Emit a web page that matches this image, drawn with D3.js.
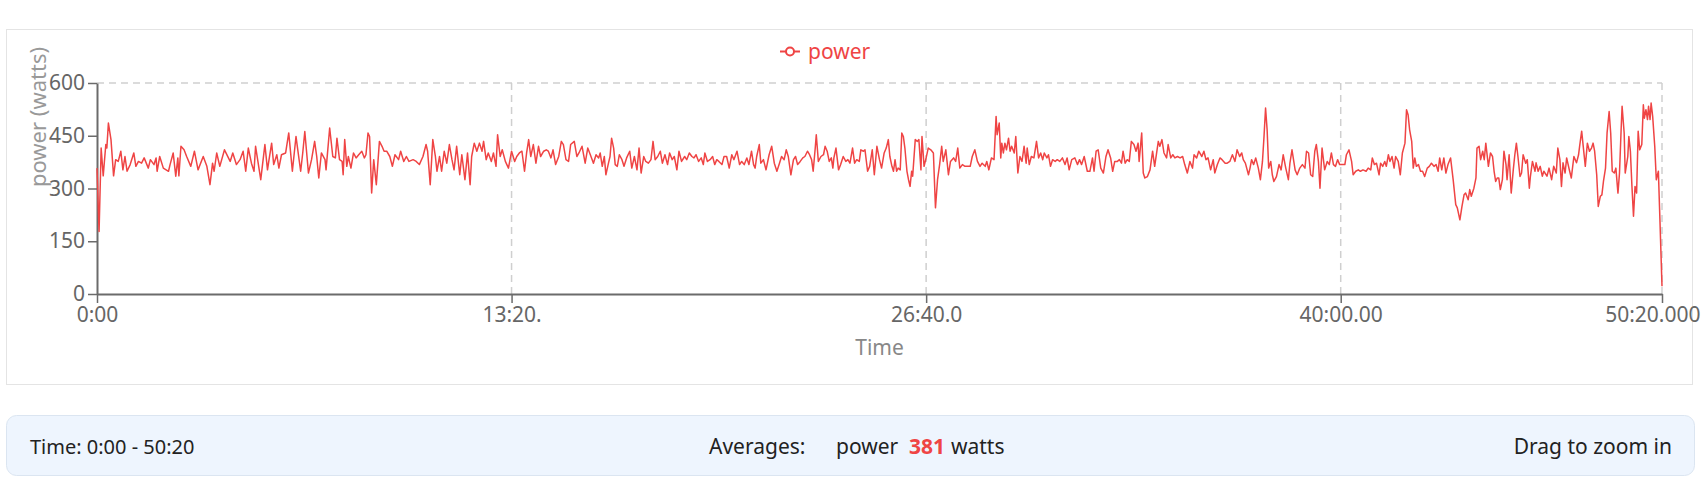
<!DOCTYPE html>
<html>
<head>
<meta charset="utf-8">
<script src="https://cdn.jsdelivr.net/npm/d3@7"></script>
<style>
  html, body { margin: 0; padding: 0; background: #fff; }
  svg { display: block; font-family: "Segoe UI", "Noto Sans", sans-serif; }
</style>
</head>
<body>
<div id="chart"></div>
<script>
// data: elapsed seconds and power in watts
const seconds = [
  0,4,8,12,17,19,22,27,32,36,41,46,50,54,58,64,71,75,80,86,91,99,103,110,114,116,121,128,138,141,147,152,156,158,162,168,173,181,188,195,205,212,218,223,226,231,237,246,257,262,269,276,282,287,292,298,303,306,316,324,329,332,337,341,347,351,356,364,370,377,384,387,393,397,401,408,414,420,424,428,433,440,442,449,
  455,460,463,468,473,475,478,482,485,490,495,500,505,511,516,519,523,526,530,534,539,545,550,554,559,565,570,575,582,586,592,597,602,610,616,622,629,635,638,643,648,653,656,661,665,670,675,680,685,689,694,700,704,710,715,720,723,728,733,738,743,746,751,755,761,765,770,773,778,782,788,794,800,806,810,815,820,825,829,833,837,842,847,852,856,862,867,871,876,880,885,891,896,900,905,910,914,921,
  926,930,936,942,947,952,958,963,968,971,975,979,982,987,990,993,997,1000,1004,1008,1013,1017,1022,1028,1032,1037,1042,1046,1050,1055,1059,1064,1069,1073,1077,1082,1087,1091,1096,1101,1105,1110,1114,1119,1123,1128,1134,1138,1143,1148,1152,1156,1161,1166,1170,1173,1178,1183,1188,1192,1196,1200,1206,1210,1215,1220,1225,1229,1235,1240,1244,1249,1254,1258,1263,1267,1270,1273,1278,1281,1286,1291,1297,1302,1307,1312,1317,1321,1326,1330,1334,1339,1344,1348,1352,1357,1362,1366,1371,1375,1379,1382,1386,
  1388,1392,1397,1402,1405,1409,1413,1417,1420,1422,1426,1431,1435,1440,1445,1449,1453,1458,1462,1466,1471,1474,1479,1482,1487,1491,1496,1500,1505,1510,1514,1519,1523,1527,1530,1534,1537,1540,1543,1546,1550,1553,1556,1559,1563,1566,1569,1572,1574,1579,1583,1586,1590,1592,1596,1600,1604,1609,1614,1618,1622,1626,1630,1633,1638,1643,1647,1653,1657,1661,1665,1670,1675,1680,1685,1689,1694,1699,1704,1708,1714,1717,1721,1726,1731,1735,1737,1741,1744,1746,1749,1752,1755,1759,1762,1765,1770,1773,1777,1781,1785,1789,1793,1795,1799,1803,1808,1813,1817,1821,1825,1828,1833,1836,1840,1844,1849,
  1853,1858,1863,1868,1872,1876,1881,1887,1892,1896,1900,1905,1911,1916,1921,1924,1928,1932,1937,1942,1947,1951,1956,1960,1964,1969,1973,1977,1980,1984,1988,1992,1996,2001,2005,2009,2011,2016,2019,2022,2027,2032,2037,2041,2048,2051,2055,2059,2064,2067,2072,2076,2080,2085,2090,2095,2099,2104,2109,2114,2117,2122,2126,2132,2136,2140,2144,2149,2154,2157,2162,2167,2171,2177,2181,2186,2191,2196,2200,2205,2209,2212,2216,2222,2225,2228,2232,2236,2241,2245,2249,2252,2255,2258,2261,2265,2268,2271,2276,2281,2285,2289,2294,2299,2302,2306,2312,
  2316,2321,2326,2331,2334,2338,2342,2346,2350,2353,2357,2360,2364,2369,2374,2378,2382,2386,2390,2394,2398,2403,2408,2411,2416,2421,2424,2429,2434,2438,2443,2449,2453,2458,2461,2465,2469,2474,2477,2481,2485,2488,2492,2495,2499,2503,2506,2511,2515,2519,2524,2527,2530,2533,2537,2540,2543,2546,2550,2554,2558,2562,2567,2571,2575,2580,2584,2588,2591,2595,2599,2603,2607,2612,2617,2622,2625,2630,2634,2638,2641,2646,2649,2652,2657,2661,2663,2667,2670,2674,2677,2680,2685,2689,2693,2696,2699,2702,2705,2708,2712,2715,2719,2721,2725,2729,2733,2736,2739,2742,2746,2749,2752,2757,2760,2764,2766,2770,2775,
  2777,2781,2785,2789,2792,2798,2802,2807,2811,2816,2819,2823,2826,2829,2833,2836,2841,2845,2850,2855,2859,2861,2865,2868,2872,2876,2880,2884,2887,2890,2894,2897,2901,2904,2907,2911,2914,2918,2921,2924,2928,2931,2935,2938,2941,2943,2947,2949,2954,2956,2959,2962,2965,2968,2971,2974,2977,2981,2984,2986,2989,2992,2994,2997,2999,3002,3006,3009,3013,3016,3020
];
const watts = [
  358,178,415,336,425,415,486,439,336,382,377,406,353,391,349,368,401,363,377,372,387,358,382,368,387,349,391,358,349,368,401,335,387,336,420,410,391,363,406,353,391,363,311,372,349,401,363,410,377,401,368,382,406,349,415,372,349,420,325,425,353,382,429,368,396,358,396,401,458,349,448,415,349,401,462,344,382,434,391,330,401,382,353,472,
  391,387,443,382,377,339,439,363,391,358,401,387,396,406,387,396,458,448,287,382,311,434,420,406,406,391,363,396,382,406,377,391,377,382,377,368,391,425,406,311,439,391,349,391,349,406,372,425,382,353,420,339,396,325,401,311,391,429,406,429,406,434,382,401,377,401,363,453,391,410,377,358,406,377,391,401,406,349,401,439,391,425,372,420,391,406,410,406,387,410,368,391,434,425,382,377,425,434,
  391,401,420,372,415,396,372,396,387,401,363,391,339,372,391,443,415,368,363,396,382,363,387,406,358,391,353,415,344,391,377,372,382,434,382,391,406,372,396,368,401,382,391,353,406,377,391,382,401,391,387,396,377,387,368,401,377,382,391,368,382,377,368,391,391,358,396,382,406,368,377,368,387,368,406,368,358,391,425,372,382,353,396,420,372,349,372,391,382,410,391,339,382,391,368,377,387,391,406,396,382,349,415,
  453,377,391,396,420,406,377,387,358,387,415,353,368,391,377,382,372,415,372,382,377,410,406,410,349,363,410,339,420,382,358,401,415,439,391,363,349,382,349,358,353,458,448,415,349,325,306,349,335,439,434,439,353,448,363,387,415,410,401,245,325,368,420,377,410,339,377,387,377,415,358,368,363,363,363,391,410,377,363,372,363,377,353,387,382,505,453,486,387,429,401,429,410,443,406,420,401,448,344,391,377,420,372,415,368,391,387,434,387,401,382,401,387,396,363,382,377,
  382,377,387,368,387,353,382,387,368,382,368,391,349,349,387,349,406,410,358,344,391,410,387,349,377,377,382,372,406,372,382,377,434,425,406,429,377,458,344,330,334,353,406,363,434,420,439,401,387,425,387,396,387,391,387,391,368,344,377,358,396,387,406,391,406,382,387,353,382,344,368,387,382,372,372,377,396,377,410,391,401,382,372,339,358,382,368,387,358,325,377,448,529,467,358,377,339,320,334,368,353,396,358,325,372,410,353,
  339,358,368,358,406,401,339,334,406,425,377,301,415,353,377,368,401,368,363,382,368,368,368,396,410,377,339,349,353,349,353,349,358,353,387,368,372,339,372,363,377,363,396,377,391,358,391,377,339,401,429,524,510,467,434,358,387,363,368,349,349,334,358,363,372,363,368,349,387,353,387,344,368,387,325,254,245,211,249,282,287,268,297,278,301,330,415,420,382,406,382,429,363,401,391,349,320,330,330,297,325,406,368,325,396,287,353,396,429,391,334,344,396,372,382,301,334,377,349,
  373,349,363,335,349,335,358,325,363,344,415,382,306,373,344,387,354,330,391,373,396,420,463,420,363,429,406,415,429,406,339,249,278,282,320,358,458,519,458,349,344,358,287,344,463,534,458,344,391,448,406,306,221,306,287,463,410,425,538,500,524,496,534,496,543,505,420,325,349,211,22
];
const seriesName = "power";
const unitLabel = "power (watts)";
const xTickSeconds = [0, 800, 1600, 2400, 3020];
const xTickLabels = ["0:00", "13:20.", "26:40.0", "40:00.00", "50:20.000"];
const yTicks = [0, 150, 300, 450, 600];
const timeRange = "Time: 0:00 - 50:20";
const averageWatts = 381;

const W = 1701, H = 484;
const plot = { left: 97, right: 1662, top: 83, bottom: 294 };
const red = "#ef4444";
const axisGray = "#6b6b6b";

const svg = d3.select("#chart").append("svg")
  .attr("width", W).attr("height", H);

// panel
svg.append("rect")
  .attr("x", 6.5).attr("y", 29.5)
  .attr("width", 1686).attr("height", 355)
  .attr("fill", "#fff").attr("stroke", "#e4e4e4");

const x = d3.scaleLinear().domain([0, 3020]).range([plot.left, plot.right]);
const y = d3.scaleLinear().domain([0, 600]).range([plot.bottom, plot.top]);

// grid: top line and vertical lines at the time ticks
const grid = svg.append("g")
  .attr("stroke", "#cfcfcf").attr("stroke-width", 1.5)
  .attr("stroke-dasharray", "7 5").attr("fill", "none");
grid.append("line")
  .attr("x1", x(0)).attr("x2", x(3020))
  .attr("y1", y(600)).attr("y2", y(600));
grid.selectAll(".vgrid")
  .data(xTickSeconds.slice(1))
  .join("line")
  .attr("x1", d => x(d)).attr("x2", d => x(d))
  .attr("y1", y(600)).attr("y2", y(0));

// axes
const yAxis = svg.append("g")
  .attr("transform", `translate(${plot.left},0)`)
  .call(d3.axisLeft(y).tickValues(yTicks).tickSize(9).tickPadding(3).tickSizeOuter(0));
const xAxis = svg.append("g")
  .attr("transform", `translate(0,${plot.bottom})`)
  .call(d3.axisBottom(x).tickValues(xTickSeconds).tickSize(9).tickPadding(4).tickSizeOuter(0)
    .tickFormat((d, i) => xTickLabels[i]));
[yAxis, xAxis].forEach(ax => {
  ax.select(".domain").attr("stroke", axisGray).attr("stroke-width", 2);
  ax.selectAll(".tick line").attr("stroke", axisGray).attr("stroke-width", 1.5);
  ax.selectAll(".tick text")
    .attr("fill", "#666")
    .style("font-size", "21px")
    .style("font-family", "'Segoe UI', 'Noto Sans', sans-serif");
});
// last time label is pushed left so it stays inside the page
xAxis.selectAll(".tick text")
  .filter(d => d === 3020)
  .attr("text-anchor", "end")
  .attr("x", W - 1 - plot.right);

// axis titles
svg.append("text")
  .attr("transform", "translate(46,117) rotate(-90)")
  .attr("text-anchor", "middle")
  .attr("fill", "#999")
  .style("font-size", "22px")
  .text(unitLabel);
svg.append("text")
  .attr("x", (plot.left + plot.right) / 2)
  .attr("y", 355)
  .attr("text-anchor", "middle")
  .attr("fill", "#888")
  .style("font-size", "21px")
  .text("Time");

// the power line
const line = d3.line()
  .x((d, i) => x(seconds[i]))
  .y(d => y(d));
svg.append("path")
  .datum(watts)
  .attr("fill", "none")
  .attr("stroke", red)
  .attr("stroke-width", 1.5)
  .attr("stroke-linejoin", "round")
  .attr("d", line);

// legend
const legend = svg.append("g").attr("transform", "translate(780,51.5)");
legend.append("line")
  .attr("x1", 0).attr("x2", 20)
  .attr("stroke", red).attr("stroke-width", 2);
legend.append("circle")
  .attr("cx", 10).attr("r", 4)
  .attr("fill", "#fff").attr("stroke", red).attr("stroke-width", 2);
legend.append("text")
  .attr("x", 28).attr("y", 7)
  .attr("fill", red)
  .style("font-size", "21px")
  .text(seriesName);

// summary bar
svg.append("rect")
  .attr("x", 6.5).attr("y", 415.5)
  .attr("width", 1688).attr("height", 60)
  .attr("rx", 10)
  .attr("fill", "#eef5fe").attr("stroke", "#dbe5f1");

const barText = svg.append("g")
  .style("font-size", "21px").attr("fill", "#222");
barText.append("text").attr("x", 30).attr("y", 454)
  .style("font-size", "20px").text(timeRange);
barText.append("text").attr("x", 709).attr("y", 454).text("Averages:");
barText.append("text").attr("x", 836).attr("y", 454).text(seriesName);
barText.append("text").attr("x", 909).attr("y", 454)
  .attr("fill", red).attr("font-weight", "bold").text(averageWatts);
barText.append("text").attr("x", 951).attr("y", 454).text("watts");
barText.append("text").attr("x", 1672).attr("y", 454)
  .attr("text-anchor", "end").text("Drag to zoom in");
</script>
</body>
</html>
